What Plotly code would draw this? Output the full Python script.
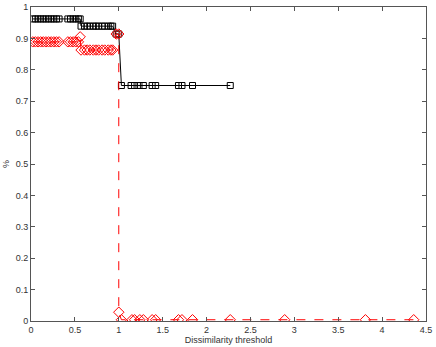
import plotly.graph_objects as go

# black squares series
black_x = [0.02, 0.05, 0.08, 0.11, 0.14, 0.17, 0.2, 0.23, 0.26, 0.29, 0.32,
           0.42, 0.45, 0.48, 0.51, 0.54, 0.56,
           0.57, 0.61, 0.64, 0.67, 0.71, 0.74, 0.77, 0.81, 0.84, 0.88, 0.91, 0.93,
           0.97, 1.0,
           1.03, 1.14, 1.18, 1.23, 1.28, 1.38, 1.42, 1.68, 1.72, 1.84, 2.27]
black_y = [0.962] * 11 + [0.962] * 6 + [0.939] * 12 + [0.914] * 2 + [0.75] * 11

# red diamonds series
red_x = [0.02, 0.05, 0.08, 0.11, 0.14, 0.17, 0.2, 0.23, 0.26, 0.29, 0.32,
         0.42, 0.45, 0.48, 0.51, 0.54, 0.56,
         0.57, 0.61, 0.64, 0.67, 0.71, 0.74, 0.77, 0.81, 0.84, 0.88, 0.91, 0.93,
         0.97, 1.0,
         1.0, 1.03, 1.15, 1.18, 1.24, 1.28, 1.38, 1.42, 1.68, 1.72, 1.84,
         2.27, 2.89, 3.81, 4.36]
red_y = ([0.889] * 11 + [0.889, 0.889, 0.889, 0.889, 0.889, 0.905]
         + [0.863] * 12 + [0.914] * 2
         + [0.028] + [0.004] * 14)

x_ticks = [0, 0.5, 1, 1.5, 2, 2.5, 3, 3.5, 4, 4.5]
x_labels = ["0", "0.5", "1", "1.5", "2", "2.5", "3", "3.5", "4", "4.5"]
y_ticks = [0, 0.1, 0.2, 0.3, 0.4, 0.5, 0.6, 0.7, 0.8, 0.9, 1]
y_labels = ["0", "0.1", "0.2", "0.3", "0.4", "0.5", "0.6", "0.7", "0.8", "0.9", "1"]

fig = go.Figure()
fig.add_trace(go.Scatter(
    x=black_x, y=black_y, mode="lines+markers",
    line=dict(color="black", width=1),
    marker=dict(symbol="square-open", size=6, color="black", line=dict(width=1))))
fig.add_trace(go.Scatter(
    x=red_x, y=red_y, mode="lines+markers",
    line=dict(color="red", width=1, dash="dash"),
    marker=dict(symbol="diamond-open", size=8, color="red", line=dict(width=1))))

axis_style = dict(showline=True, linecolor="#555555", linewidth=1, mirror="ticks",
                  ticks="inside", ticklen=4, tickcolor="#555555",
                  showgrid=False, zeroline=False,
                  tickfont=dict(size=9, color="#333333"))

fig.update_xaxes(range=[0, 4.5], tickvals=x_ticks, ticktext=x_labels,
                 title=dict(text="Dissimilarity threshold", font=dict(size=9, color="#333333"), standoff=0),
                 automargin=False, **axis_style)
fig.update_yaxes(range=[0, 1], tickvals=y_ticks, ticktext=y_labels,
                 title=dict(text="%", font=dict(size=9, color="#333333"), standoff=4),
                 automargin=False, **axis_style)

fig.update_layout(width=436, height=347, showlegend=False,
                  margin=dict(l=31, r=10, t=7, b=26),
                  plot_bgcolor="white", paper_bgcolor="white",
                  font=dict(family="Liberation Sans, Arial, sans-serif"))

# drop the default page margin so the figure sits at the window's corner
fig.write_html("out.html", config={"displayModeBar": False},
               post_script="document.body.style.margin='0px';")
